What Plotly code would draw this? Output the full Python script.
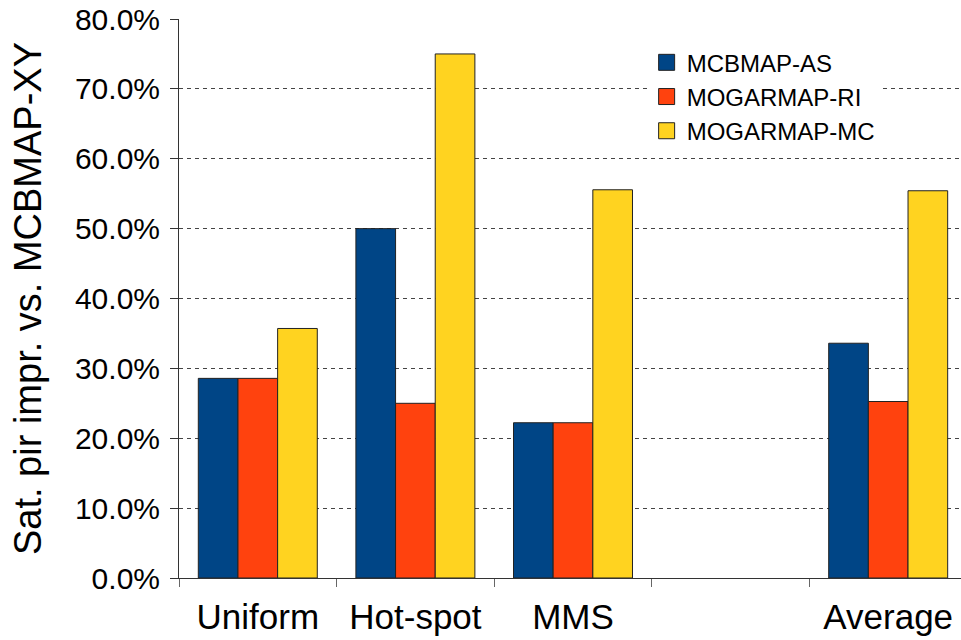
import plotly.graph_objects as go

# Benchmarks on the x axis (the fourth slot is an intentional blank spacer)
categories = ["Uniform", "Hot-spot", "MMS", " ", "Average"]

# Saturation-throughput improvement vs. MCBMAP-XY, in percent
mcbmap_as = [28.57, 50.0, 22.22, None, 33.60]
mogarmap_ri = [28.57, 25.0, 22.22, None, 25.26]
mogarmap_mc = [35.71, 75.0, 55.56, None, 55.42]

series = [
    ("MCBMAP-AS", mcbmap_as, "#004586"),
    ("MOGARMAP-RI", mogarmap_ri, "#ff420e"),
    ("MOGARMAP-MC", mogarmap_mc, "#ffd320"),
]

y_ticks = [0, 10, 20, 30, 40, 50, 60, 70, 80]

font_family = "Liberation Sans, Arial, sans-serif"
outline = "#222222"

fig = go.Figure()
for name, values, color in series:
    fig.add_trace(
        go.Bar(
            x=categories,
            y=values,
            name=name,
            showlegend=False,
            marker=dict(color=color, line=dict(color=outline, width=1)),
        )
    )

# Legend keys: larger square swatches than the default bar icon
for name, _, color in series:
    fig.add_trace(
        go.Scatter(
            x=[None],
            y=[None],
            mode="markers",
            name=name,
            marker=dict(symbol="square", size=16, color=color, line=dict(color=outline, width=1)),
        )
    )

fig.update_layout(
    width=961,
    height=640,
    margin=dict(l=179, r=0, t=19, b=62),
    paper_bgcolor="white",
    plot_bgcolor="white",
    barmode="group",
    bargap=0.245,
    bargroupgap=0,
    font=dict(family=font_family, color="#000000"),
    showlegend=True,
    legend=dict(
        x=0.598,
        y=0.962,
        xanchor="left",
        yanchor="top",
        bgcolor="white",
        borderwidth=0,
        font=dict(size=24, family=font_family),
        itemsizing="trace",
        tracegroupgap=0,
    ),
)

fig.update_xaxes(
    type="category",
    categoryorder="array",
    categoryarray=categories,
    range=[-0.5, 4.462],
    showline=True,
    linecolor="#333333",
    linewidth=1,
    ticks="outside",
    tickson="boundaries",
    ticklen=8,
    tickcolor="#666666",
    tickfont=dict(size=35, family=font_family),
    ticklabelstandoff=8,
    showgrid=False,
)

fig.update_yaxes(
    range=[0, 80],
    tickvals=y_ticks,
    ticktext=[f"{v:.1f}%" for v in y_ticks],
    showline=True,
    linecolor="#333333",
    linewidth=1,
    ticks="outside",
    ticklen=8,
    tickcolor="#333333",
    tickfont=dict(size=30, family=font_family),
    ticklabelstandoff=4,
    showgrid=True,
    gridcolor="#444444",
    gridwidth=1,
    griddash="4px,4px",
    zeroline=False,
    title=dict(text="Sat. pir impr. vs. MCBMAP-XY", font=dict(size=38, family=font_family), standoff=21),
)

fig.write_html("out.html")
